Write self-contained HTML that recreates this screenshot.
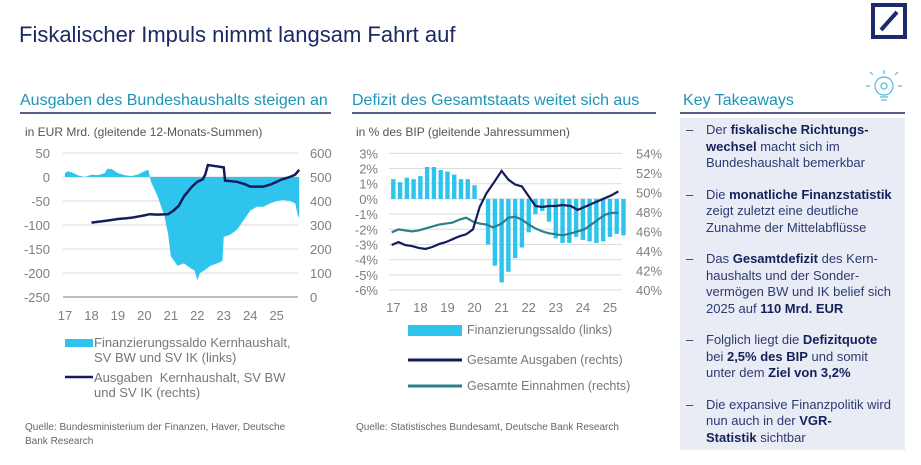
<!DOCTYPE html>
<html><head><meta charset="utf-8"><style>
body{margin:0;width:921px;height:465px;background:#fff;overflow:hidden;font-family:"Liberation Sans",sans-serif;}
svg{position:absolute;left:0;top:0}
.box{position:absolute;left:680px;top:118px;width:225px;height:332px;background:#e9ecf5}
.box ul{list-style:none;margin:0;padding:4px 0 0 0;color:#2c3a70;font-size:13px;line-height:16.5px}
.box li{position:relative;padding-left:26px;width:188px;margin-bottom:15px}
.box li:before{content:"–";position:absolute;left:6px}
.box b{color:#16205a}
</style></head><body>
<svg width="921" height="465" xmlns="http://www.w3.org/2000/svg" id="svg" font-family="Liberation Sans, sans-serif">
<text x="19" y="42" font-size="22" fill="#1b2a63">Fiskalischer Impuls nimmt langsam Fahrt auf</text>
<g><rect x="873" y="5" width="32" height="32" fill="none" stroke="#1b2a6b" stroke-width="4"/><line x1="881" y1="30" x2="897" y2="12" stroke="#1b2a6b" stroke-width="4"/></g>
<g stroke="#4cb8e0" fill="none" stroke-width="1.2"><circle cx="884" cy="86" r="9"/><circle cx="884" cy="86" r="3"/><line x1="880" y1="97" x2="888" y2="97"/><line x1="881" y1="100" x2="887" y2="100"/><line x1="884" y1="70" x2="884" y2="74"/><line x1="870" y1="86" x2="866" y2="86"/><line x1="898" y1="86" x2="902" y2="86"/><line x1="873" y1="75" x2="870" y2="72"/><line x1="895" y1="75" x2="898" y2="72"/></g>
<text x="20" y="105" font-size="16" fill="#1c95b8">Ausgaben des Bundeshaushalts steigen an</text>
<line x1="20" y1="113" x2="331" y2="113" stroke="#1b2a63" stroke-width="1.5"/>
<text x="352" y="105" font-size="16" fill="#1c95b8">Defizit des Gesamtstaats weitet sich aus</text>
<line x1="352" y1="113" x2="656" y2="113" stroke="#1b2a63" stroke-width="1.5"/>
<text x="683" y="105" font-size="16" fill="#1c95b8">Key Takeaways</text>
<line x1="680" y1="113" x2="905" y2="113" stroke="#1b2a63" stroke-width="1.5"/>
<text x="25" y="136" font-size="12" fill="#555">in EUR Mrd. (gleitende 12-Monats-Summen)</text>
<text x="356" y="136" font-size="12" fill="#555">in % des BIP (gleitende Jahressummen)</text>
<g id="c1"></g><g id="c2"></g>
<rect x="65" y="339" width="28" height="8" fill="#2ec4ee"/>
<text font-size="13" fill="#777"><tspan x="94" y="347">Finanzierungssaldo Kernhaushalt,</tspan><tspan x="94" y="362">SV BW und SV IK (links)</tspan></text>
<line x1="65" y1="377" x2="93" y2="377" stroke="#141c5a" stroke-width="2.5"/>
<text font-size="13" fill="#777" xml:space="preserve"><tspan x="94" y="382">Ausgaben  Kernhaushalt, SV BW</tspan><tspan x="94" y="397">und SV IK (rechts)</tspan></text>
<rect x="408" y="325" width="54" height="11" fill="#2ec4ee"/>
<text x="467" y="334" font-size="12.5" fill="#777">Finanzierungssaldo (links)</text>
<line x1="408" y1="360" x2="462" y2="360" stroke="#141c5a" stroke-width="3"/>
<text x="467" y="364" font-size="12.5" fill="#777">Gesamte Ausgaben (rechts)</text>
<line x1="408" y1="386" x2="462" y2="386" stroke="#2a7f8a" stroke-width="3"/>
<text x="467" y="390" font-size="12.5" fill="#777">Gesamte Einnahmen (rechts)</text>
<text font-size="10" fill="#666"><tspan x="25" y="430">Quelle: Bundesministerium der Finanzen, Haver, Deutsche</tspan><tspan x="25" y="444">Bank Research</tspan></text>
<text x="356" y="430" font-size="10" fill="#666">Quelle: Statistisches Bundesamt, Deutsche Bank Research</text>
</svg>
<div class="box"><ul>
<li>Der <b>fiskalische Richtungs­wechsel</b> macht sich im Bundeshaushalt bemerkbar</li>
<li>Die <b>monatliche Finanzstatistik</b> zeigt zuletzt eine deutliche Zunahme der Mittelabflüsse</li>
<li>Das <b>Gesamtdefizit</b> des Kern­haushalts und der Sonder­vermögen BW und IK belief sich 2025 auf <b>110 Mrd. EUR</b></li>
<li>Folglich liegt die <b>Defizitquote</b> bei <b>2,5% des BIP</b> und somit unter dem <b>Ziel von 3,2%</b></li>
<li>Die expansive Finanzpolitik wird nun auch in der <b>VGR-<br>Statistik</b> sichtbar</li>
</ul></div>
<script>
// Chart 1 data
const c1SaldoYears=[17,17.1,17.25,17.5,17.75,18,18.25,18.5,18.6,18.75,19,19.25,19.5,19.75,20,20.15,20.25,20.5,20.75,20.9,21,21.25,21.5,21.75,21.9,22,22.1,22.25,22.5,22.75,22.95,23,23.25,23.5,23.75,24,24.25,24.5,24.75,25,25.25,25.5,25.7,25.8,25.85];
const c1Saldo=[8,12,10,3,0,5,4,8,17,17,8,4,2,5,12,15,-10,-40,-80,-120,-165,-185,-180,-190,-195,-215,-200,-195,-185,-180,-175,-125,-120,-110,-90,-70,-62,-62,-55,-50,-48,-50,-55,-80,-85];
const c1AusYears=[18,18.7,19,19.5,20,20.2,20.5,20.9,21.1,21.3,21.5,21.8,22,22.2,22.3,22.4,22.7,23,23.05,23.5,23.8,24,24.5,24.8,25.2,25.5,25.7,25.85];
const c1Aus=[310,320,325,330,340,345,343,345,360,380,420,460,480,490,510,550,545,540,485,480,470,460,460,470,490,500,510,530];
const c1LeftTicks=[50,0,-50,-100,-150,-200,-250];
const c1RightTicks=[600,500,400,300,200,100,0];
const xTickLabels=["17","18","19","20","21","22","23","24","25"];
// Chart 2 data
const c2BarYears=[17,17.25,17.5,17.75,18,18.25,18.5,18.75,19,19.25,19.5,19.75,20,20.25,20.5,20.75,21,21.25,21.5,21.75,22,22.25,22.5,22.75,23,23.25,23.5,23.75,24,24.25,24.5,24.75,25,25.25,25.5];
const c2Saldo=[1.3,1.1,1.4,1.3,1.5,2.1,2.1,1.9,1.8,1.6,1.3,1.3,0.9,-0.1,-3.0,-4.4,-5.5,-4.8,-3.9,-3.2,-2.2,-1.0,-0.8,-1.5,-2.6,-2.9,-2.9,-2.5,-2.7,-2.8,-2.9,-2.8,-2.5,-2.3,-2.4];
const c2LineYears=[16.94,17.19,17.44,17.69,17.94,18.19,18.44,18.69,18.94,19.19,19.44,19.69,19.94,20.19,20.44,20.69,21.0,21.25,21.5,21.75,22.0,22.25,22.5,22.75,23.0,23.25,23.56,23.81,24.06,24.31,24.56,24.81,25.06,25.31];
const c2Ausgaben=[44.6,44.9,44.6,44.5,44.3,44.2,44.4,44.7,44.9,45.2,45.5,45.7,46.2,48.5,49.9,50.9,52.2,51.3,50.8,50.6,49.6,48.6,48.5,48.6,48.6,48.7,48.6,48.2,48.5,48.8,49.1,49.4,49.7,50.1];
const c2Einnahmen=[45.9,46.2,46.1,46.0,46.1,46.3,46.5,46.7,46.8,46.9,47.2,47.4,47.0,46.8,46.7,46.4,46.8,47.4,47.5,47.2,46.7,46.3,46.0,45.8,45.7,45.6,45.8,46.0,46.2,46.7,47.2,47.7,47.9,47.9];
const c2LeftTicks=[3,2,1,0,-1,-2,-3,-4,-5,-6];
const c2RightTicks=[54,52,50,48,46,44,42,40];

const NS="http://www.w3.org/2000/svg";
function mk(parent,tag,attrs,text){const e=document.createElementNS(NS,tag);for(const k in attrs)e.setAttribute(k,attrs[k]);if(text!==undefined)e.textContent=text;parent.appendChild(e);return e;}
// chart 1 scales
const x1=y=>65+(y-17)*26.46, yL1=v=>177-v*0.48, yR1=v=>297-v*0.24;
const g1=document.getElementById('c1');
c1LeftTicks.forEach(v=>{
 if(v>-250){const l=mk(g1,'line',{x1:63,x2:298,y1:yL1(v),y2:yL1(v),stroke:'#d9d9d9'});}
 const t=mk(g1,'text',{x:50,y:yL1(v)+5,'text-anchor':'end','font-size':13,fill:'#7f7f7f'},String(v));
 });
c1RightTicks.forEach(v=>{const t=mk(g1,'text',{x:310,y:yR1(v)+5,'font-size':13,fill:'#7f7f7f'},String(v));
 });
let d="M"+x1(c1SaldoYears[0])+","+yL1(0);
c1SaldoYears.forEach((y,i)=>{d+=" L"+x1(y)+","+yL1(c1Saldo[i]);});
d+=" L"+x1(c1SaldoYears[c1SaldoYears.length-1])+","+yL1(0)+"Z";
const a1=mk(g1,'path',{d:d,fill:'#2ec4ee'});
const ax1=mk(g1,'line',{x1:63,x2:298,y1:297,y2:297,stroke:'#bfbfbf','stroke-width':2});

xTickLabels.forEach((s,i)=>{const t=mk(g1,'text',{x:x1(17+i),y:320,'text-anchor':'middle','font-size':13,fill:'#7f7f7f'},s);
 });
const p1=mk(g1,'polyline',{points:c1AusYears.map((y,i)=>x1(y)+","+yR1(c1Aus[i])).join(" "),fill:'none',stroke:'#141c5a','stroke-width':2.5});

// chart 2
const x2=y=>393.3+(y-17)*27.08, yL2=v=>198.9-v*15.19, yR2=v=>153.3+(54-v)*9.76;
const g2=document.getElementById('c2');
c2LeftTicks.forEach(v=>{
 const l=mk(g2,'line',{x1:389,x2:622,y1:yL2(v),y2:yL2(v),stroke:'#dcdcdc'});
 const t=mk(g2,'text',{x:378,y:yL2(v)+5,'text-anchor':'end','font-size':13,fill:'#7f7f7f'},v+"%");
 });
c2RightTicks.forEach(v=>{const t=mk(g2,'text',{x:636,y:yR2(v)+5,'font-size':13,fill:'#7f7f7f'},v+"%");
 });
c2Saldo.forEach((v,i)=>{const xc=x2(c2BarYears[i]);const r=mk(g2,'rect',{x:xc-2.2,y:Math.min(yL2(v),yL2(0)),width:4.4,height:Math.abs(yL2(v)-yL2(0)),fill:'#2ec4ee'});
 });
xTickLabels.forEach((s,i)=>{const t=mk(g2,'text',{x:x2(17+i),y:312,'text-anchor':'middle','font-size':13,fill:'#7f7f7f'},s);
 });
const p2=mk(g2,'polyline',{points:c2LineYears.map((y,i)=>x2(y)+","+yR2(c2Einnahmen[i])).join(" "),fill:'none',stroke:'#2a7f8a','stroke-width':2.2});

const p3=mk(g2,'polyline',{points:c2LineYears.map((y,i)=>x2(y)+","+yR2(c2Ausgaben[i])).join(" "),fill:'none',stroke:'#141c5a','stroke-width':2.2});

</script>
</body></html>
